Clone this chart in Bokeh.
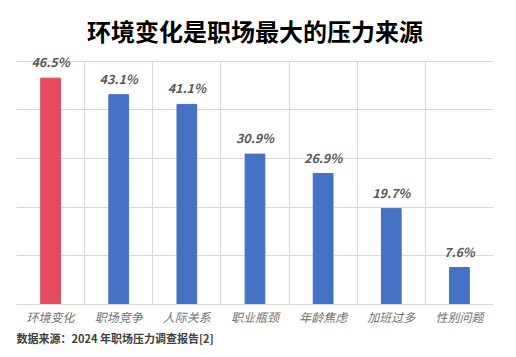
from bokeh.plotting import figure
from bokeh.models import FixedTicker, Range1d, ColumnDataSource, Title, LabelSet
from bokeh.core.properties import value
from bokeh.embed import file_html
from bokeh.resources import INLINE

categories = ["环境变化", "职场竞争", "人际关系", "职业瓶颈", "年龄焦虑", "加班过多", "性别问题"]
values = [46.5, 43.1, 41.1, 30.9, 26.9, 19.7, 7.6]
colors = ["#E54B5E", "#4472C4", "#4472C4", "#4472C4", "#4472C4", "#4472C4", "#4472C4"]
labels = [f"{v:.1f}%" for v in values]
y_ticks = [0, 10, 20, 30, 40, 50]

FONT = "Noto Sans CJK SC"

xs = [i + 0.5 for i in range(len(categories))]
src = ColumnDataSource(dict(x=xs, top=values, color=colors, label=labels))

p = figure(width=516, height=357, output_backend="svg", toolbar_location=None,
           x_range=Range1d(0, len(categories)), y_range=Range1d(0, 53),
           min_border_left=16, min_border_right=23, min_border_top=46, min_border_bottom=53)

p.vbar(x="x", top="top", width=0.29, color="color", source=src)
p.add_layout(LabelSet(x="x", y="top", text="label", source=src, text_align="center",
                      text_baseline="bottom", y_offset=7, text_font=value(FONT),
                      text_font_style="bold italic", text_font_size="12.5px",
                      text_color="#595959"))

p.xaxis.ticker = FixedTicker(ticks=xs)
p.xaxis.major_label_overrides = {x: c for x, c in zip(xs, categories)}
p.xaxis.major_label_text_font = FONT
p.xaxis.major_label_text_font_style = "italic"
p.xaxis.major_label_text_font_size = "12px"
p.xaxis.major_label_text_color = "#707070"
p.xaxis.major_tick_line_color = None
p.xaxis.major_tick_out = 0
p.xaxis.major_tick_in = 0
p.xaxis.minor_tick_line_color = None
p.xaxis.minor_tick_out = 0
p.xaxis.axis_line_color = "#D9D9D9"
p.xaxis.major_label_standoff = 3

p.yaxis.visible = False
p.xgrid.ticker = FixedTicker(ticks=list(range(len(categories) + 1)))
p.xgrid.cross_bounds = (y_ticks[0], y_ticks[-1])
p.ygrid.ticker = FixedTicker(ticks=y_ticks)
p.xgrid.grid_line_color = "#D9D9D9"
p.ygrid.grid_line_color = "#D9D9D9"
p.outline_line_color = None

p.title = Title(text="环境变化是职场最大的压力来源", align="center",
                text_font=FONT, text_font_size="24px", text_font_style="bold",
                text_color="#000000", offset=0, standoff=-3)
p.add_layout(Title(text="数据来源：2024 年职场压力调查报告[2]", align="left",
                   text_font=FONT, text_font_size="11px", text_font_style="bold",
                   text_color="#404040", offset=0, standoff=0), "below")

open("out.html", "w").write(file_html(p, INLINE))
